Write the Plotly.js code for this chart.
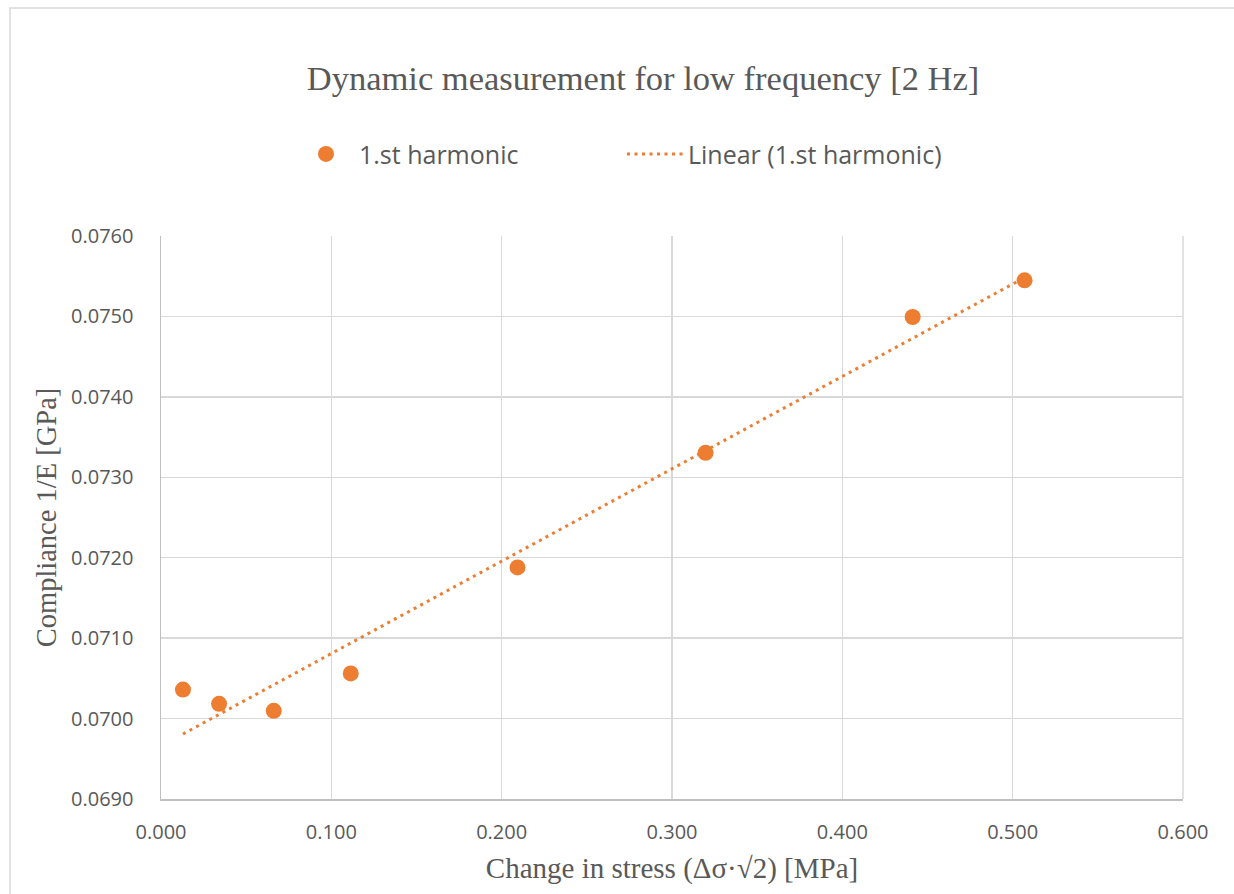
<!DOCTYPE html>
<html>
<head>
<meta charset="utf-8">
<script src="https://cdn.plot.ly/plotly-3.0.1.min.js"></script>
<style>html,body{margin:0;padding:0;background:#fff;}#chart{width:1234px;height:894px;}</style>
</head>
<body>
<div id="chart"></div>
<script>
// Data
const stressChange = [0.0129, 0.0341, 0.0662, 0.1114, 0.2093, 0.3197, 0.4413, 0.5070];
const compliance   = [0.07036, 0.070183, 0.070096, 0.070561, 0.071879, 0.073304, 0.074993, 0.075449];
const seriesName = "1.st harmonic";
const trendName = "Linear (1.st harmonic)";
const xTickVals = [0, 0.1, 0.2, 0.3, 0.4, 0.5, 0.6];
const yTickVals = [0.069, 0.070, 0.071, 0.072, 0.073, 0.074, 0.075, 0.076];

// Least-squares linear trendline (as Excel does)
const n = stressChange.length;
const mx = stressChange.reduce((a,b)=>a+b,0)/n;
const my = compliance.reduce((a,b)=>a+b,0)/n;
let sxy = 0, sxx = 0;
for (let i=0;i<n;i++){ sxy += (stressChange[i]-mx)*(compliance[i]-my); sxx += (stressChange[i]-mx)**2; }
const slope = sxy/sxx, intercept = my - slope*mx;
const xmin = Math.min(...stressChange), xmax = Math.max(...stressChange);
const trendX = [xmin, xmax];
const trendY = trendX.map(x => intercept + slope*x);

const orange = '#ED7D31';
const sans = 'Open Sans, sans-serif';
const serif = 'Liberation Serif, Times New Roman, serif';

const traces = [
  {x: stressChange, y: compliance, type:'scatter', mode:'markers', name: seriesName,
   marker:{color: orange, size:16}},
  {x: trendX, y: trendY, type:'scatter', mode:'lines', name: trendName,
   line:{color: orange, width:3, dash:'3px,4.5px'}}
];

const layout = {
  width:1234, height:894,
  margin:{l:161, r:51, t:236, b:95},
  paper_bgcolor:'#fff', plot_bgcolor:'#fff',
  title:{text:'Dynamic measurement for low frequency [2 Hz]', font:{family:serif, size:34.5, color:'#595959'},
         xref:'container', x:643/1234, xanchor:'center', y:1-78/894, yanchor:'middle'},
  showlegend:true,
  legend:{orientation:'h', x:(293-161)/1022, xanchor:'left', y:(798.7-155)/562, yanchor:'middle',
          font:{family:sans, size:25, color:'#595959'}, entrywidth:258, entrywidthmode:'pixels',
          itemwidth:56, bgcolor:'rgba(0,0,0,0)'},
  xaxis:{range:[0,0.6], tickvals:xTickVals, tickformat:'.3f', showgrid:true, gridcolor:'#d9d9d9', gridwidth:1.5,
         zeroline:false, showline:true, linecolor:'#bfbfbf', linewidth:1.5, ticks:'',
         tickfont:{family:sans, size:20, color:'#595959'}, ticklabelstandoff:14,
         title:{text:'Change in stress (Δσ·√2) [MPa]', font:{family:serif, size:29, color:'#595959'}, standoff:14}},
  yaxis:{range:[0.069,0.076], tickvals:yTickVals, tickformat:'.4f', showgrid:true, gridcolor:'#d9d9d9', gridwidth:1.5,
         zeroline:false, showline:true, linecolor:'#bfbfbf', linewidth:1.5, ticks:'',
         tickfont:{family:sans, size:20, color:'#595959'}, ticklabelstandoff:22,
         title:{text:'Compliance 1/E [GPa]', font:{family:serif, size:28.5, color:'#595959'}, standoff:6}},
  shapes:[
    {type:'line', xref:'paper', yref:'paper', x0:1, x1:1, y0:0, y1:1, line:{color:'#d9d9d9', width:1.5}},
    {type:'rect', xref:'paper', yref:'paper', x0:(10-161)/1022, x1:1.2, y0:-0.3, y1:(798.7-8)/562.7,
     line:{color:'#d9d9d9', width:1.5}, fillcolor:'rgba(0,0,0,0)', layer:'below'}
  ]
};

Plotly.newPlot('chart', traces, layout, {displayModeBar:false, staticPlot:true});
</script>
</body>
</html>
